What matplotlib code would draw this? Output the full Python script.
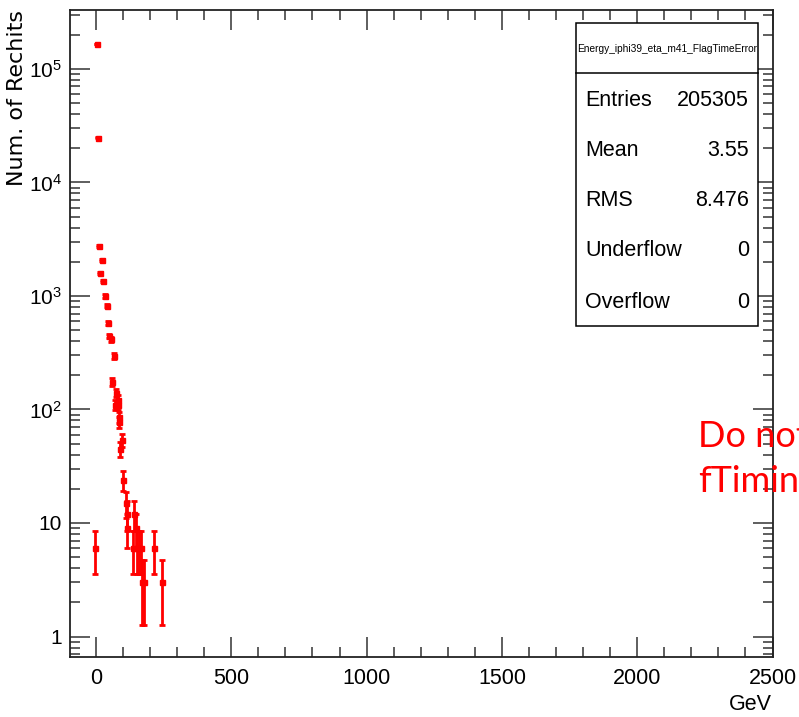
import numpy as np
import matplotlib
matplotlib.use("Agg")
import matplotlib.pyplot as plt
from matplotlib.ticker import FixedLocator, FuncFormatter, LogLocator, MultipleLocator
from matplotlib.patches import Rectangle
from matplotlib.lines import Line2D

# ---------------- data ----------------
energy_gev = [-5, 2.5, 8.5, 12, 16, 23, 27, 32, 39, 44, 48, 54, 59, 66, 71, 74,
              80, 82, 85, 86, 90, 96, 101, 110, 116, 114, 135, 140, 148, 152,
              160, 165, 169, 177, 214, 243]
num_rechits = [6, 166000, 24800, 2770, 1590, 2070, 1355, 1000, 822, 575, 443, 417,
               175, 297, 110, 141, 122, 110, 85, 77, 45, 54, 24, 15, 12, 9, 6, 12,
               9, 6, 6, 6, 3, 3, 6, 3]
x_ticks = [0, 500, 1000, 1500, 2000, 2500]
y_ticks = [1, 10, 100, 1000, 10000, 100000]
y_tick_labels = ["1", "10", "$10^{2}$", "$10^{3}$", "$10^{4}$", "$10^{5}$"]
hist_name = "Energy_iphi39_eta_m41_FlagTimeError"
stat_labels = ["Entries", "Mean", "RMS", "Underflow", "Overflow"]
stat_values = ["205305", "3.55", "8.476", "0", "0"]
overlay_lines = ["Do not", "fTiming"]

FONT = "Liberation Sans"
plt.rcParams["font.family"] = [FONT, "DejaVu Sans"]
plt.rcParams["mathtext.fontset"] = "custom"
plt.rcParams["mathtext.rm"] = FONT
plt.rcParams["mathtext.it"] = FONT

W, H = 799, 717
fig = plt.figure(figsize=(W / 100, H / 100), dpi=100)

def fx(px):
    return px / W

def fy(py):
    return 1 - py / H

ax_l, ax_r, ax_t, ax_b = 70, 772.5, 10, 657
ax = fig.add_axes([fx(ax_l), fy(ax_b), fx(ax_r) - fx(ax_l), fy(ax_t) - fy(ax_b)])

x = np.array(energy_gev, dtype=float)
y = np.array(num_rechits, dtype=float)
err = np.sqrt(y)
lo = np.minimum(err, y - 1e-3)
ax.errorbar(x, y, yerr=[lo, err], fmt="s", color="#ff0000", ms=3.6,
            mec="#ff0000", elinewidth=2.0, capsize=2.4, capthick=2.0, zorder=3)

ax.set_xlim(-96, 2500)
ax.set_yscale("log")
ax.set_ylim(0.66, 3.3e5)

ax.xaxis.set_major_locator(FixedLocator(x_ticks))
ax.xaxis.set_minor_locator(MultipleLocator(100))
ax.yaxis.set_major_locator(FixedLocator(y_ticks))
ax.yaxis.set_major_formatter(FuncFormatter(lambda v, p: y_tick_labels[y_ticks.index(int(round(v)))] if int(round(v)) in y_ticks else ""))
ax.yaxis.set_minor_locator(LogLocator(base=10, subs=np.arange(2, 10)))
ax.yaxis.set_minor_formatter(FuncFormatter(lambda v, p: ""))

fc = "#222222"
for sp in ax.spines.values():
    sp.set_color(fc)
    sp.set_linewidth(1.3)
ax.tick_params(which="both", direction="in", top=True, right=True, color="#333333", width=1.1)
ax.tick_params(which="major", length=14.5, labelsize=15.5)
ax.tick_params(which="minor", length=7.5)
ax.tick_params(axis="x", which="major", pad=8)
ax.tick_params(axis="y", which="major", pad=6, labelsize=15)

# axis titles
fig.text(fx(772), fy(705), "GeV", ha="right", va="center", fontsize=15.5)
fig.text(fx(17), fy(10), "Num. of Rechits", rotation=90, ha="center", va="top",
         fontsize=16, family=["DejaVu Sans"])

# stats box
bl, br, bt, bb, bd = 576, 758, 23, 326, 73
fig.patches.append(Rectangle((fx(bl), fy(bb)), fx(br) - fx(bl), fy(bt) - fy(bb),
                             transform=fig.transFigure, facecolor="white",
                             edgecolor="black", lw=1.1, zorder=5))
fig.lines.append(Line2D([fx(bl), fx(br)], [fy(bd), fy(bd)], transform=fig.transFigure,
                        color="black", lw=1.1, zorder=6))
fig.text(fx((bl + br) / 2), fy(49), hist_name, ha="center", va="center", fontsize=7.3, zorder=7)
row_y = [100, 151, 201, 251, 302]
for lab, val, ry in zip(stat_labels, stat_values, row_y):
    fig.text(fx(585), fy(ry), lab, ha="left", va="center", fontsize=15.5, zorder=7)
    fig.text(fx(749), fy(ry), val, ha="right", va="center", fontsize=15.5, zorder=7)

# red overlay note (cut off at the figure edge, as in the reference)
fig.text(fx(698), fy(447), overlay_lines[0], ha="left", va="baseline", fontsize=26,
         color="#ff0000", family=["Lato", "DejaVu Sans"], zorder=10)
fig.text(fx(698), fy(492), overlay_lines[1], ha="left", va="baseline", fontsize=26,
         color="#ff0000", family=["Lato", "DejaVu Sans"], zorder=10)

fig.savefig("out.png", dpi=100)
